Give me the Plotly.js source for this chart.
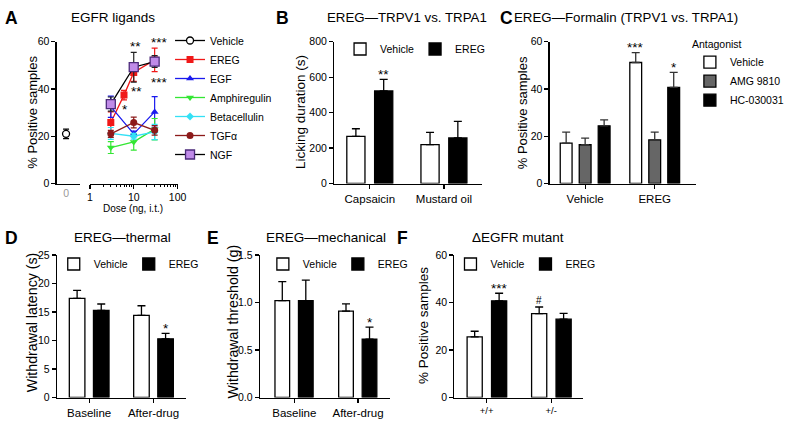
<!DOCTYPE html>
<html><head><meta charset="utf-8">
<script src="https://cdn.plot.ly/plotly-3.0.1.min.js"></script>
<style>html,body{margin:0;padding:0;background:#fff}</style>
</head><body><div id="chart" style="width:789px;height:436px"></div>
<script>
// ---------- Panel A: EGFR ligands ----------
const doseA = [3, 10, 30];
const doseEREG = [3, 6, 10, 30];
const vehicleDoseA = [0];
const vehicleA = [21.0];
const vehicleAErr = [2.0];
const eregA = [25.8, 37.4, 47.0, 52.3];
const eregAErr = [4.5, 2.0, 3.8, 5.0];
const egfA = [32.5, 21.0, 30.3];
const egfAErr = [4.5, 1.2, 6.5];
const amphiA = [15.2, 17.6, 23.0];
const amphiAErr = [2.5, 3.5, 4.5];
const betaA = [21.2, 20.0, 21.8];
const betaAErr = [2.5, 1.2, 3.2];
const tgfA = [21.0, 25.8, 22.5];
const tgfAErr = [1.5, 2.3, 2.0];
const ngfA = [33.6, 49.2, 51.6];
const ngfAErr = [3.0, 6.3, 2.5];
const doseTicks = [1, 10, 100];
const doseTickText = ['1', '10', '100'];

// ---------- Panel B ----------
const catsB = ['Capsaicin', 'Mustard oil'];
const vehB = [266, 219];
const vehBErr = [43, 69];
const eregB = [522, 257];
const eregBErr = [66, 93];
const sigB = ['**', ''];

// ---------- Panel C ----------
const catsC = ['Vehicle', 'EREG'];
const cVeh = [17.1, 51.2];
const cVehErr = [4.6, 4.2];
const cAmg = [16.4, 18.5];
const cAmgErr = [2.8, 3.2];
const cHc = [24.4, 40.7];
const cHcErr = [2.5, 6.3];
const sigCVeh = ['', '***'];
const sigCHc = ['', '*'];

// ---------- Panel D ----------
const catsDE = ['Baseline', 'After-drug'];
const dVeh = [17.4, 14.4];
const dVehErr = [1.4, 1.7];
const dEreg = [15.3, 10.3];
const dEregErr = [1.1, 0.95];
const sigD = ['', '*'];

// ---------- Panel E ----------
const eVeh = [1.02, 0.91];
const eVehErr = [0.2, 0.075];
const eEreg = [1.02, 0.615];
const eEregErr = [0.215, 0.125];
const sigE = ['', '*'];

// ---------- Panel F ----------
const catsF = ['+/+', '+/-'];
const fVeh = [25.5, 35.3];
const fVehErr = [2.4, 2.8];
const fEreg = [40.7, 33.0];
const fEregErr = [3.2, 2.4];
const sigFVeh = ['', '#'];
const sigFEreg = ['***', ''];

// ---------- helpers ----------
const W = 789, H = 436;
const FONT = 'Liberation Sans, Arial, Helvetica, sans-serif';
const px = v => v / W;
const py = v => 1 - v / H;
const zeros = a => a.map(() => 0);

function lineTrace(name, x, y, err, color, symbol, size, opts) {
  opts = opts || {};
  return Object.assign({
    type: 'scatter', mode: 'lines+markers', name: name, x: x, y: y,
    xaxis: 'x2', yaxis: 'y', legend: 'legend',
    line: {color: opts.lineColor || color, width: 1.3},
    marker: {symbol: symbol, size: size, color: color,
             line: {color: opts.markerLine || color, width: opts.markerLineWidth || 0}},
    error_y: {type: 'data', array: err, visible: true, color: color, thickness: 1.2, width: 3}
  }, opts.extra || {});
}

function barTrace(name, cats, vals, errs, ax, fill, offset, width, legend, showlegend, errColor) {
  return {
    type: 'bar', name: name, x: cats, y: vals,
    xaxis: 'x' + ax, yaxis: 'y' + ax, offset: offset, width: width,
    marker: {color: fill, line: {color: 'black', width: 1.3}},
    error_y: {type: 'data', symmetric: false, array: errs, arrayminus: zeros(errs),
              color: errColor || 'black', thickness: 1.3, width: 4},
    legend: legend, showlegend: showlegend
  };
}

const traces = [];
// Panel A
traces.push({
  type: 'scatter', mode: 'lines+markers', name: 'Vehicle', x: vehicleDoseA, y: vehicleA,
  xaxis: 'x', yaxis: 'y', legend: 'legend',
  line: {color: 'black', width: 1.3},
  marker: {symbol: 'circle', size: 7, color: 'white', line: {color: 'black', width: 1.3}},
  error_y: {type: 'data', array: vehicleAErr, color: 'black', thickness: 1.2, width: 3}
});
traces.push(lineTrace('EREG', doseEREG, eregA, eregAErr, '#f01818', 'square', 7));
traces.push(lineTrace('EGF', doseA, egfA, egfAErr, '#1a1aee', 'triangle-up', 7));
traces.push(lineTrace('Amphiregulin', doseA, amphiA, amphiAErr, '#33e633', 'triangle-down', 7));
traces.push(lineTrace('Betacellulin', doseA, betaA, betaAErr, '#33e0f5', 'diamond', 6));
traces.push(lineTrace('TGFα', doseA, tgfA, tgfAErr, '#8c1a1a', 'circle', 7));
traces.push(lineTrace('NGF', doseA, ngfA, ngfAErr, '#c08be8', 'square', 9,
  {lineColor: 'black', markerLine: '#4b2a7a', markerLineWidth: 1.3,
   extra: {error_y: {type: 'data', array: ngfAErr, color: '#222', thickness: 1.2, width: 3}}}));

// Panel B (axis 3)
const wB = 0.245, oBv = -0.31, oBe = 0.065;
traces.push(barTrace('Vehicle', catsB, vehB, vehBErr, 3, 'white', oBv, wB, 'legend2', true));
traces.push(barTrace('EREG', catsB, eregB, eregBErr, 3, 'black', oBe, wB, 'legend2', true));

// Panel C (axis 4)
const wC = 0.17;
traces.push(barTrace('Vehicle', catsC, cVeh, cVehErr, 4, 'white', -0.358, wC, 'legend6', true, '#333'));
traces.push(barTrace('AMG 9810', catsC, cAmg, cAmgErr, 4, '#666666', -0.085, wC, 'legend6', true, '#333'));
traces.push(barTrace('HC-030031', catsC, cHc, cHcErr, 4, 'black', 0.188, wC, 'legend6', true, '#333'));

// Panel D (axis 5)
const wD = 0.242;
traces.push(barTrace('Vehicle', catsDE, dVeh, dVehErr, 5, 'white', -0.308, wD, 'legend3', true));
traces.push(barTrace('EREG', catsDE, dEreg, dEregErr, 5, 'black', 0.067, wD, 'legend3', true));

// Panel E (axis 6)
const wE = 0.23;
traces.push(barTrace('Vehicle', catsDE, eVeh, eVehErr, 6, 'white', -0.304, wE, 'legend4', true));
traces.push(barTrace('EREG', catsDE, eEreg, eEregErr, 6, 'black', 0.065, wE, 'legend4', true));

// Panel F (axis 7)
const wF = 0.235;
traces.push(barTrace('Vehicle', catsF, fVeh, fVehErr, 7, 'white', -0.303, wF, 'legend5', true));
traces.push(barTrace('EREG', catsF, fEreg, fEregErr, 7, 'black', 0.076, wF, 'legend5', true));

// ---------- axes ----------
function axBase(extra) {
  return Object.assign({
    showline: true, linecolor: 'black', linewidth: 1.2, showgrid: false, zeroline: false,
    ticks: 'outside', ticklen: 4, tickwidth: 1.2, tickcolor: 'black',
    tickfont: {size: 10.5, color: 'black', family: FONT}, fixedrange: true
  }, extra);
}
const yDomTop = [py(183.5), py(41.7)];
const yDomBot = [py(397.5), py(255)];
const hLegend = x => ({orientation: 'h', x: px(x), y: py(264), xanchor: 'left', yanchor: 'middle',
  bgcolor: 'rgba(0,0,0,0)', font: {size: 10, family: FONT}, entrywidth: 30, entrywidthmode: 'pixels'});

const layout = {
  width: W, height: H, margin: {l: 0, r: 0, t: 0, b: 0},
  paper_bgcolor: 'white', plot_bgcolor: 'rgba(0,0,0,0)',
  font: {family: FONT, size: 10, color: 'black'},
  barmode: 'group', hovermode: false,
  // Panel A
  xaxis: axBase({domain: [px(58), px(82)], anchor: 'y', range: [-0.8, 1.2],
    tickvals: vehicleDoseA, ticktext: ['0'], ticks: '', tickfont: {size: 10.5, color: '#999', family: FONT}}),
  xaxis2: axBase({domain: [px(92), px(181.7)], anchor: 'y', type: 'log', range: [0, 2],
    tickvals: doseTicks, ticktext: doseTickText,
    minor: {tickvals: [2,3,4,5,6,7,8,9,20,30,40,50,60,70,80,90], ticks: 'outside', ticklen: 2.5, tickwidth: 1, tickcolor: 'black'}}),
  yaxis: axBase({domain: yDomTop, anchor: 'x', range: [0, 60], tickvals: [0, 20, 40, 60]}),
  // Panel B
  xaxis3: axBase({domain: [px(342), px(493)], anchor: 'y3', type: 'category', range: [-0.48, 1.51],
    tickfont: {size: 11.5, color: 'black', family: FONT}}),
  yaxis3: axBase({domain: yDomTop, anchor: 'x3', range: [0, 800], tickvals: [0, 200, 400, 600, 800]}),
  // Panel C
  xaxis4: axBase({domain: [px(562.5), px(712)], anchor: 'y4', type: 'category', range: [-0.51, 1.59],
    tickfont: {size: 11.5, color: 'black', family: FONT}}),
  yaxis4: axBase({domain: yDomTop, anchor: 'x4', range: [0, 60], tickvals: [0, 20, 40, 60]}),
  // Panel D
  xaxis5: axBase({domain: [px(58.3), px(190)], anchor: 'y5', type: 'category', range: [-0.5, 1.5],
    tickfont: {size: 11.5, color: 'black', family: FONT}}),
  yaxis5: axBase({domain: yDomBot, anchor: 'x5', range: [0, 25], tickvals: [0, 5, 10, 15, 20, 25]}),
  // Panel E
  xaxis6: axBase({domain: [px(266), px(399)], anchor: 'y6', type: 'category', range: [-0.54, 1.5],
    tickfont: {size: 11.5, color: 'black', family: FONT}}),
  yaxis6: axBase({domain: yDomBot, anchor: 'x6', range: [0, 1.5], tickvals: [0, 0.5, 1, 1.5], tickformat: '.1f'}),
  // Panel F
  xaxis7: axBase({domain: [px(465), px(597)], anchor: 'y7', type: 'category', range: [-0.5, 1.5],
    tickfont: {size: 9.5, color: 'black', family: FONT}}),
  yaxis7: axBase({domain: yDomBot, anchor: 'x7', range: [0, 60], tickvals: [0, 20, 40, 60]}),
  // legends
  legend: {x: px(174), y: py(26), xanchor: 'left', yanchor: 'top', bgcolor: 'rgba(0,0,0,0)',
    font: {size: 10.5, family: FONT}, traceorder: 'normal', tracegroupgap: 0, itemclick: false},
  legend2: {orientation: 'h', x: px(348), y: py(49), xanchor: 'left', yanchor: 'middle',
    bgcolor: 'rgba(0,0,0,0)', font: {size: 10.5, family: FONT}, entrywidth: 30, entrywidthmode: 'pixels'},
  legend3: hLegend(55),
  legend4: hLegend(269),
  legend5: hLegend(461),
  legend6: {x: px(706), y: py(34), xanchor: 'left', yanchor: 'top', bgcolor: 'rgba(0,0,0,0)',
    font: {size: 10.5, family: FONT}, title: {text: 'Antagonist', font: {size: 10.5, family: FONT}}},
  annotations: []
};
layout.legend3.font.size = layout.legend4.font.size = layout.legend5.font.size = 10.5;

const A = layout.annotations;
function ann(text, x, y, size, opts) {
  A.push(Object.assign({text: text, x: px(x), y: py(y), xref: 'paper', yref: 'paper',
    showarrow: false, font: {size: size, family: FONT, color: 'black'}, xanchor: 'center', yanchor: 'middle'}, opts || {}));
}
// panel letters
[['A', 12, 18], ['B', 289, 18], ['C', 518, 18], ['D', 12, 238], ['E', 218, 238], ['F', 412, 238]]
  .forEach(l => ann('<b>' + l[0] + '</b>', l[1], l[2], 17.5));
// titles
ann('EGFR ligands', 115.5, 18, 13.5);
ann('EREG\u2014TRPV1 vs. TRPA1', 416, 18, 13.3);
ann('EREG\u2014Formalin (TRPV1 vs. TRPA1)', 641, 18, 13.3);
ann('EREG\u2014thermal', 125, 238, 13.5);
ann('EREG\u2014mechanical', 334, 238, 13.5);
ann('\u0394EGFR mutant', 530, 238, 13.5);
// y-axis titles
ann('% Positive samples', 33, 112.5, 13, {textangle: -90});
ann('Licking duration (s)', 307, 112, 13.5, {textangle: -90});
ann('% Positive samples', 535, 112.5, 13, {textangle: -90});
ann('Withdrawal latency (s)', 33, 322, 14.2, {textangle: -90});
ann('Withdrawal threshold (g)', 238, 322, 14.2, {textangle: -90});
ann('% Positive samples', 433, 326, 13.5, {textangle: -90});
// x-axis title A
ann('Dose (ng, i.t.)', 136.5, 208, 10);

// significance marks
function star(text, xr, yr, x, y, dx, dy, size) {
  if (!text) return;
  A.push({text: text, x: x, y: y, xref: xr, yref: yr, showarrow: false, xshift: dx || 0, yshift: dy || 0,
    font: {size: size || 13.5, family: FONT, color: 'black'}, xanchor: 'center', yanchor: 'middle'});
}
// Panel A (log axis: annotation x in log10 units)
star('**', 'x2', 'y', Math.log10(doseA[1]), ngfA[1] + ngfAErr[1], 2, 6);
star('***', 'x2', 'y', Math.log10(doseA[2]), eregA[3] + eregAErr[3], 5, 6);
star('*', 'x2', 'y', Math.log10(doseEREG[1]), eregA[1] - eregAErr[1], 1, -10);
star('**', 'x2', 'y', Math.log10(doseEREG[2]), eregA[2] - eregAErr[2], 3, -10);
star('***', 'x2', 'y', Math.log10(doseEREG[3]), eregA[3] - eregAErr[3], 5, -11);
// bars
const ctr = (i, o, w) => i + o + w / 2;
sigB.forEach((s, i) => star(s, 'x3', 'y3', ctr(i, oBe, wB), eregB[i] + eregBErr[i], 0, 5));
sigCVeh.forEach((s, i) => star(s, 'x4', 'y4', ctr(i, -0.358, wC), cVeh[i] + cVehErr[i], 0, 5));
sigCHc.forEach((s, i) => star(s, 'x4', 'y4', ctr(i, 0.188, wC), cHc[i] + cHcErr[i], 0, 5));
sigD.forEach((s, i) => star(s, 'x5', 'y5', ctr(i, 0.067, wD), dEreg[i] + dEregErr[i], 0, 5));
sigE.forEach((s, i) => star(s, 'x6', 'y6', ctr(i, 0.065, wE), eEreg[i] + eEregErr[i], 0, 5));
sigFEreg.forEach((s, i) => star(s, 'x7', 'y7', ctr(i, 0.076, wF), fEreg[i] + fEregErr[i], 0, 5));
sigFVeh.forEach((s, i) => star(s, 'x7', 'y7', ctr(i, -0.303, wF), fVeh[i] + fVehErr[i], 0, 7, 10));

Plotly.newPlot('chart', traces, layout, {staticPlot: true, displayModeBar: false});
</script>
</body></html>
